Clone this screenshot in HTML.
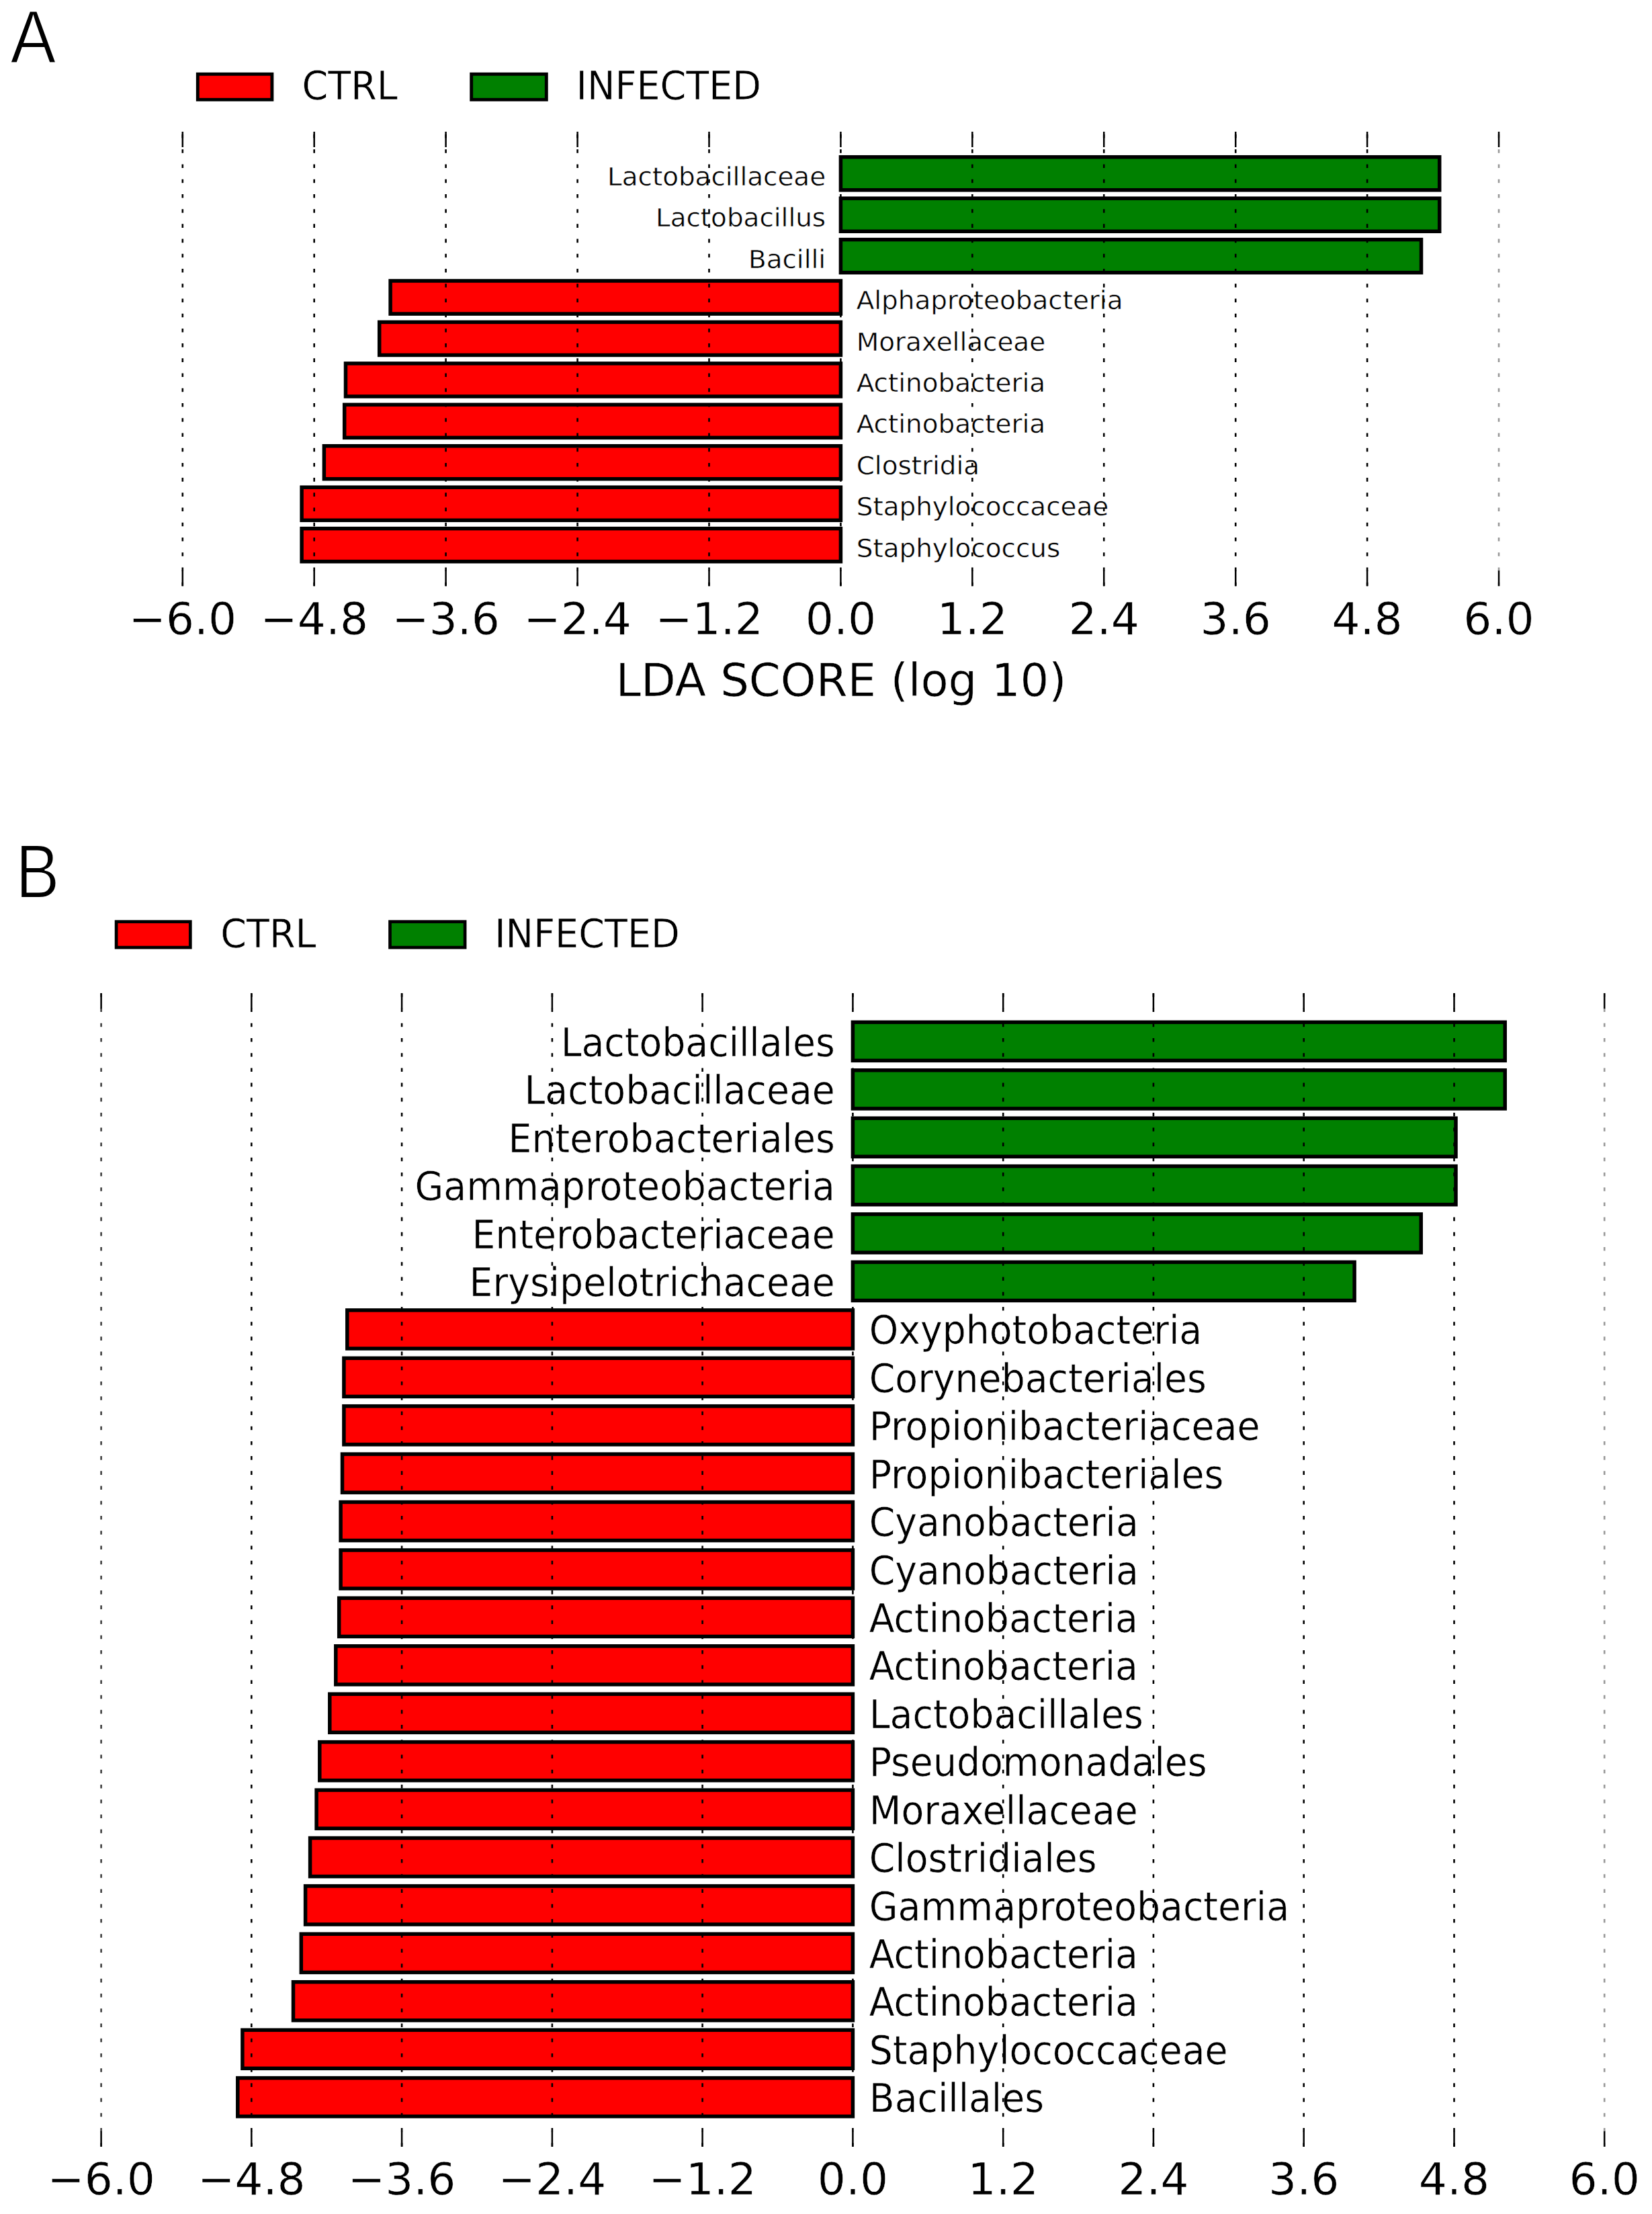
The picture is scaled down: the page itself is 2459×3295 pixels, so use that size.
<!DOCTYPE html>
<html lang="en"><head><meta charset="utf-8"><title>LDA score</title>
<style>
html,body{margin:0;padding:0;background:#fff}
svg{display:block}
text{font-family:"DejaVu Sans","Liberation Sans",sans-serif;fill:#000;stroke:#fff;stroke-width:0.5px}
.pl{font-family:"Liberation Sans","DejaVu Sans",sans-serif;stroke-width:2px}
</style></head><body>
<svg width="2459" height="3295" viewBox="0 0 2459 3295">
<rect width="2459" height="3295" fill="#fff"/>
<g id="panelA">
<rect x="1251.4" y="233.7" width="891.3" height="49.1" fill="#008000" stroke="#000" stroke-width="5.5"/>
<rect x="1251.4" y="295.2" width="891.3" height="49.1" fill="#008000" stroke="#000" stroke-width="5.5"/>
<rect x="1251.4" y="356.6" width="864.1" height="49.1" fill="#008000" stroke="#000" stroke-width="5.5"/>
<rect x="581.1" y="418.0" width="670.3" height="49.1" fill="#ff0000" stroke="#000" stroke-width="5.5"/>
<rect x="564.7" y="479.4" width="686.7" height="49.1" fill="#ff0000" stroke="#000" stroke-width="5.5"/>
<rect x="514.5" y="540.9" width="736.9" height="49.1" fill="#ff0000" stroke="#000" stroke-width="5.5"/>
<rect x="512.7" y="602.3" width="738.7" height="49.1" fill="#ff0000" stroke="#000" stroke-width="5.5"/>
<rect x="482.4" y="663.7" width="769.0" height="49.1" fill="#ff0000" stroke="#000" stroke-width="5.5"/>
<rect x="449.1" y="725.2" width="802.3" height="49.1" fill="#ff0000" stroke="#000" stroke-width="5.5"/>
<rect x="449.1" y="786.6" width="802.3" height="49.1" fill="#ff0000" stroke="#000" stroke-width="5.5"/>
<text transform="translate(1229.1,275.8) scale(1,0.945)" font-size="38.89" text-anchor="end">Lactobacillaceae</text>
<text transform="translate(1229.1,337.3) scale(1,0.945)" font-size="38.89" text-anchor="end">Lactobacillus</text>
<text transform="translate(1229.1,398.7) scale(1,0.945)" font-size="38.89" text-anchor="end">Bacilli</text>
<text transform="translate(1274.7,460.1) scale(1,0.945)" font-size="38.89">Alphaproteobacteria</text>
<text transform="translate(1274.7,521.5) scale(1,0.945)" font-size="38.89">Moraxellaceae</text>
<text transform="translate(1274.7,583.0) scale(1,0.945)" font-size="38.89">Actinobacteria</text>
<text transform="translate(1274.7,644.4) scale(1,0.945)" font-size="38.89">Actinobacteria</text>
<text transform="translate(1274.7,705.8) scale(1,0.945)" font-size="38.89">Clostridia</text>
<text transform="translate(1274.7,767.3) scale(1,0.945)" font-size="38.89">Staphylococcaceae</text>
<text transform="translate(1274.7,828.7) scale(1,0.945)" font-size="38.89">Staphylococcus</text>
<line x1="271.8" y1="872.2" x2="271.8" y2="196.0" stroke="#000" stroke-width="2.6" stroke-dasharray="5.56 16.66"/>
<line x1="271.8" y1="872.2" x2="271.8" y2="849.2" stroke="#000" stroke-width="2.5"/>
<line x1="271.8" y1="196.0" x2="271.8" y2="219.0" stroke="#000" stroke-width="2.5"/>
<text x="271.8" y="944.0" font-size="66.2" text-anchor="middle">−6.0</text>
<line x1="467.7" y1="872.2" x2="467.7" y2="196.0" stroke="#000" stroke-width="2.6" stroke-dasharray="5.56 16.66"/>
<line x1="467.7" y1="872.2" x2="467.7" y2="849.2" stroke="#000" stroke-width="2.5"/>
<line x1="467.7" y1="196.0" x2="467.7" y2="219.0" stroke="#000" stroke-width="2.5"/>
<text x="467.7" y="944.0" font-size="66.2" text-anchor="middle">−4.8</text>
<line x1="663.6" y1="872.2" x2="663.6" y2="196.0" stroke="#000" stroke-width="2.6" stroke-dasharray="5.56 16.66"/>
<line x1="663.6" y1="872.2" x2="663.6" y2="849.2" stroke="#000" stroke-width="2.5"/>
<line x1="663.6" y1="196.0" x2="663.6" y2="219.0" stroke="#000" stroke-width="2.5"/>
<text x="663.6" y="944.0" font-size="66.2" text-anchor="middle">−3.6</text>
<line x1="859.6" y1="872.2" x2="859.6" y2="196.0" stroke="#000" stroke-width="2.6" stroke-dasharray="5.56 16.66"/>
<line x1="859.6" y1="872.2" x2="859.6" y2="849.2" stroke="#000" stroke-width="2.5"/>
<line x1="859.6" y1="196.0" x2="859.6" y2="219.0" stroke="#000" stroke-width="2.5"/>
<text x="859.6" y="944.0" font-size="66.2" text-anchor="middle">−2.4</text>
<line x1="1055.5" y1="872.2" x2="1055.5" y2="196.0" stroke="#000" stroke-width="2.6" stroke-dasharray="5.56 16.66"/>
<line x1="1055.5" y1="872.2" x2="1055.5" y2="849.2" stroke="#000" stroke-width="2.5"/>
<line x1="1055.5" y1="196.0" x2="1055.5" y2="219.0" stroke="#000" stroke-width="2.5"/>
<text x="1055.5" y="944.0" font-size="66.2" text-anchor="middle">−1.2</text>
<line x1="1251.4" y1="872.2" x2="1251.4" y2="196.0" stroke="#000" stroke-width="2.6" stroke-dasharray="5.56 16.66"/>
<line x1="1251.4" y1="872.2" x2="1251.4" y2="849.2" stroke="#000" stroke-width="2.5"/>
<line x1="1251.4" y1="196.0" x2="1251.4" y2="219.0" stroke="#000" stroke-width="2.5"/>
<text x="1251.4" y="944.0" font-size="66.2" text-anchor="middle">0.0</text>
<line x1="1447.3" y1="872.2" x2="1447.3" y2="196.0" stroke="#000" stroke-width="2.6" stroke-dasharray="5.56 16.66"/>
<line x1="1447.3" y1="872.2" x2="1447.3" y2="849.2" stroke="#000" stroke-width="2.5"/>
<line x1="1447.3" y1="196.0" x2="1447.3" y2="219.0" stroke="#000" stroke-width="2.5"/>
<text x="1447.3" y="944.0" font-size="66.2" text-anchor="middle">1.2</text>
<line x1="1643.2" y1="872.2" x2="1643.2" y2="196.0" stroke="#000" stroke-width="2.6" stroke-dasharray="5.56 16.66"/>
<line x1="1643.2" y1="872.2" x2="1643.2" y2="849.2" stroke="#000" stroke-width="2.5"/>
<line x1="1643.2" y1="196.0" x2="1643.2" y2="219.0" stroke="#000" stroke-width="2.5"/>
<text x="1643.2" y="944.0" font-size="66.2" text-anchor="middle">2.4</text>
<line x1="1839.2" y1="872.2" x2="1839.2" y2="196.0" stroke="#000" stroke-width="2.6" stroke-dasharray="5.56 16.66"/>
<line x1="1839.2" y1="872.2" x2="1839.2" y2="849.2" stroke="#000" stroke-width="2.5"/>
<line x1="1839.2" y1="196.0" x2="1839.2" y2="219.0" stroke="#000" stroke-width="2.5"/>
<text x="1839.2" y="944.0" font-size="66.2" text-anchor="middle">3.6</text>
<line x1="2035.1" y1="872.2" x2="2035.1" y2="196.0" stroke="#000" stroke-width="2.6" stroke-dasharray="5.56 16.66"/>
<line x1="2035.1" y1="872.2" x2="2035.1" y2="849.2" stroke="#000" stroke-width="2.5"/>
<line x1="2035.1" y1="196.0" x2="2035.1" y2="219.0" stroke="#000" stroke-width="2.5"/>
<text x="2035.1" y="944.0" font-size="66.2" text-anchor="middle">4.8</text>
<line x1="2231.0" y1="872.2" x2="2231.0" y2="196.0" stroke="#000" stroke-width="2.6" stroke-dasharray="5.56 16.66" opacity="0.4"/>
<line x1="2231.0" y1="872.2" x2="2231.0" y2="849.2" stroke="#000" stroke-width="2.5"/>
<line x1="2231.0" y1="196.0" x2="2231.0" y2="219.0" stroke="#000" stroke-width="2.5"/>
<text x="2231.0" y="944.0" font-size="66.2" text-anchor="middle">6.0</text>
<rect x="294.3" y="110.3" width="110.6" height="38.0" fill="#ff0000" stroke="#000" stroke-width="4.9"/>
<text transform="translate(449.5,148.0) scale(1,1.065)" font-size="55.56">CTRL</text>
<rect x="701.7" y="110.3" width="111.6" height="38.0" fill="#008000" stroke="#000" stroke-width="4.9"/>
<text transform="translate(857.6,148.0) scale(1,1.065)" font-size="55.56">INFECTED</text>
<text x="1252.1" y="1036.4" font-size="67.3" text-anchor="middle">LDA SCORE (log 10)</text>
</g>
<g id="panelB">
<rect x="1269.4" y="1521.3" width="970.8" height="57.1" fill="#008000" stroke="#000" stroke-width="5.5"/>
<rect x="1269.4" y="1592.8" width="970.8" height="57.1" fill="#008000" stroke="#000" stroke-width="5.5"/>
<rect x="1269.4" y="1664.2" width="897.6" height="57.1" fill="#008000" stroke="#000" stroke-width="5.5"/>
<rect x="1269.4" y="1735.6" width="897.6" height="57.1" fill="#008000" stroke="#000" stroke-width="5.5"/>
<rect x="1269.4" y="1807.0" width="845.8" height="57.1" fill="#008000" stroke="#000" stroke-width="5.5"/>
<rect x="1269.4" y="1878.4" width="746.7" height="57.1" fill="#008000" stroke="#000" stroke-width="5.5"/>
<rect x="516.8" y="1949.9" width="752.6" height="57.1" fill="#ff0000" stroke="#000" stroke-width="5.5"/>
<rect x="511.9" y="2021.3" width="757.5" height="57.1" fill="#ff0000" stroke="#000" stroke-width="5.5"/>
<rect x="511.9" y="2092.7" width="757.5" height="57.1" fill="#ff0000" stroke="#000" stroke-width="5.5"/>
<rect x="509.5" y="2164.1" width="759.9" height="57.1" fill="#ff0000" stroke="#000" stroke-width="5.5"/>
<rect x="507.1" y="2235.5" width="762.3" height="57.1" fill="#ff0000" stroke="#000" stroke-width="5.5"/>
<rect x="507.1" y="2307.0" width="762.3" height="57.1" fill="#ff0000" stroke="#000" stroke-width="5.5"/>
<rect x="504.7" y="2378.4" width="764.7" height="57.1" fill="#ff0000" stroke="#000" stroke-width="5.5"/>
<rect x="499.8" y="2449.8" width="769.6" height="57.1" fill="#ff0000" stroke="#000" stroke-width="5.5"/>
<rect x="490.8" y="2521.2" width="778.6" height="57.1" fill="#ff0000" stroke="#000" stroke-width="5.5"/>
<rect x="475.8" y="2592.6" width="793.6" height="57.1" fill="#ff0000" stroke="#000" stroke-width="5.5"/>
<rect x="471.1" y="2664.1" width="798.3" height="57.1" fill="#ff0000" stroke="#000" stroke-width="5.5"/>
<rect x="461.6" y="2735.5" width="807.8" height="57.1" fill="#ff0000" stroke="#000" stroke-width="5.5"/>
<rect x="454.6" y="2806.9" width="814.8" height="57.1" fill="#ff0000" stroke="#000" stroke-width="5.5"/>
<rect x="448.3" y="2878.3" width="821.1" height="57.1" fill="#ff0000" stroke="#000" stroke-width="5.5"/>
<rect x="436.5" y="2949.7" width="832.9" height="57.1" fill="#ff0000" stroke="#000" stroke-width="5.5"/>
<rect x="360.9" y="3021.2" width="908.5" height="57.1" fill="#ff0000" stroke="#000" stroke-width="5.5"/>
<rect x="353.8" y="3092.6" width="915.6" height="57.1" fill="#ff0000" stroke="#000" stroke-width="5.5"/>
<text transform="translate(1242.8,1571.9) scale(1,1.05)" font-size="55.3" text-anchor="end">Lactobacillales</text>
<text transform="translate(1242.8,1643.3) scale(1,1.05)" font-size="55.3" text-anchor="end">Lactobacillaceae</text>
<text transform="translate(1242.8,1714.8) scale(1,1.05)" font-size="55.3" text-anchor="end">Enterobacteriales</text>
<text transform="translate(1242.8,1786.2) scale(1,1.05)" font-size="55.3" text-anchor="end">Gammaproteobacteria</text>
<text transform="translate(1242.8,1857.6) scale(1,1.05)" font-size="55.3" text-anchor="end">Enterobacteriaceae</text>
<text transform="translate(1242.8,1929.0) scale(1,1.05)" font-size="55.3" text-anchor="end">Erysipelotrichaceae</text>
<text transform="translate(1293.7,2000.4) scale(1,1.05)" font-size="55.3">Oxyphotobacteria</text>
<text transform="translate(1293.7,2071.9) scale(1,1.05)" font-size="55.3">Corynebacteriales</text>
<text transform="translate(1293.7,2143.3) scale(1,1.05)" font-size="55.3">Propionibacteriaceae</text>
<text transform="translate(1293.7,2214.7) scale(1,1.05)" font-size="55.3">Propionibacteriales</text>
<text transform="translate(1293.7,2286.1) scale(1,1.05)" font-size="55.3">Cyanobacteria</text>
<text transform="translate(1293.7,2357.5) scale(1,1.05)" font-size="55.3">Cyanobacteria</text>
<text transform="translate(1293.7,2429.0) scale(1,1.05)" font-size="55.3">Actinobacteria</text>
<text transform="translate(1293.7,2500.4) scale(1,1.05)" font-size="55.3">Actinobacteria</text>
<text transform="translate(1293.7,2571.8) scale(1,1.05)" font-size="55.3">Lactobacillales</text>
<text transform="translate(1293.7,2643.2) scale(1,1.05)" font-size="55.3">Pseudomonadales</text>
<text transform="translate(1293.7,2714.6) scale(1,1.05)" font-size="55.3">Moraxellaceae</text>
<text transform="translate(1293.7,2786.1) scale(1,1.05)" font-size="55.3">Clostridiales</text>
<text transform="translate(1293.7,2857.5) scale(1,1.05)" font-size="55.3">Gammaproteobacteria</text>
<text transform="translate(1293.7,2928.9) scale(1,1.05)" font-size="55.3">Actinobacteria</text>
<text transform="translate(1293.7,3000.3) scale(1,1.05)" font-size="55.3">Actinobacteria</text>
<text transform="translate(1293.7,3071.7) scale(1,1.05)" font-size="55.3">Staphylococcaceae</text>
<text transform="translate(1293.7,3143.2) scale(1,1.05)" font-size="55.3">Bacillales</text>
<line x1="150.6" y1="3194.8" x2="150.6" y2="1478.1" stroke="#000" stroke-width="2.6" stroke-dasharray="5.56 16.66" opacity="0.75"/>
<line x1="150.6" y1="3194.8" x2="150.6" y2="3171.8" stroke="#000" stroke-width="2.5"/>
<line x1="150.6" y1="1478.1" x2="150.6" y2="1501.1" stroke="#000" stroke-width="2.5"/>
<text x="150.6" y="3266.0" font-size="66.2" text-anchor="middle">−6.0</text>
<line x1="374.3" y1="3194.8" x2="374.3" y2="1478.1" stroke="#000" stroke-width="2.6" stroke-dasharray="5.56 16.66"/>
<line x1="374.3" y1="3194.8" x2="374.3" y2="3171.8" stroke="#000" stroke-width="2.5"/>
<line x1="374.3" y1="1478.1" x2="374.3" y2="1501.1" stroke="#000" stroke-width="2.5"/>
<text x="374.3" y="3266.0" font-size="66.2" text-anchor="middle">−4.8</text>
<line x1="598.1" y1="3194.8" x2="598.1" y2="1478.1" stroke="#000" stroke-width="2.6" stroke-dasharray="5.56 16.66"/>
<line x1="598.1" y1="3194.8" x2="598.1" y2="3171.8" stroke="#000" stroke-width="2.5"/>
<line x1="598.1" y1="1478.1" x2="598.1" y2="1501.1" stroke="#000" stroke-width="2.5"/>
<text x="598.1" y="3266.0" font-size="66.2" text-anchor="middle">−3.6</text>
<line x1="821.9" y1="3194.8" x2="821.9" y2="1478.1" stroke="#000" stroke-width="2.6" stroke-dasharray="5.56 16.66"/>
<line x1="821.9" y1="3194.8" x2="821.9" y2="3171.8" stroke="#000" stroke-width="2.5"/>
<line x1="821.9" y1="1478.1" x2="821.9" y2="1501.1" stroke="#000" stroke-width="2.5"/>
<text x="821.9" y="3266.0" font-size="66.2" text-anchor="middle">−2.4</text>
<line x1="1045.6" y1="3194.8" x2="1045.6" y2="1478.1" stroke="#000" stroke-width="2.6" stroke-dasharray="5.56 16.66"/>
<line x1="1045.6" y1="3194.8" x2="1045.6" y2="3171.8" stroke="#000" stroke-width="2.5"/>
<line x1="1045.6" y1="1478.1" x2="1045.6" y2="1501.1" stroke="#000" stroke-width="2.5"/>
<text x="1045.6" y="3266.0" font-size="66.2" text-anchor="middle">−1.2</text>
<line x1="1269.4" y1="3194.8" x2="1269.4" y2="1478.1" stroke="#000" stroke-width="2.6" stroke-dasharray="5.56 16.66"/>
<line x1="1269.4" y1="3194.8" x2="1269.4" y2="3171.8" stroke="#000" stroke-width="2.5"/>
<line x1="1269.4" y1="1478.1" x2="1269.4" y2="1501.1" stroke="#000" stroke-width="2.5"/>
<text x="1269.4" y="3266.0" font-size="66.2" text-anchor="middle">0.0</text>
<line x1="1493.2" y1="3194.8" x2="1493.2" y2="1478.1" stroke="#000" stroke-width="2.6" stroke-dasharray="5.56 16.66"/>
<line x1="1493.2" y1="3194.8" x2="1493.2" y2="3171.8" stroke="#000" stroke-width="2.5"/>
<line x1="1493.2" y1="1478.1" x2="1493.2" y2="1501.1" stroke="#000" stroke-width="2.5"/>
<text x="1493.2" y="3266.0" font-size="66.2" text-anchor="middle">1.2</text>
<line x1="1716.9" y1="3194.8" x2="1716.9" y2="1478.1" stroke="#000" stroke-width="2.6" stroke-dasharray="5.56 16.66"/>
<line x1="1716.9" y1="3194.8" x2="1716.9" y2="3171.8" stroke="#000" stroke-width="2.5"/>
<line x1="1716.9" y1="1478.1" x2="1716.9" y2="1501.1" stroke="#000" stroke-width="2.5"/>
<text x="1716.9" y="3266.0" font-size="66.2" text-anchor="middle">2.4</text>
<line x1="1940.7" y1="3194.8" x2="1940.7" y2="1478.1" stroke="#000" stroke-width="2.6" stroke-dasharray="5.56 16.66"/>
<line x1="1940.7" y1="3194.8" x2="1940.7" y2="3171.8" stroke="#000" stroke-width="2.5"/>
<line x1="1940.7" y1="1478.1" x2="1940.7" y2="1501.1" stroke="#000" stroke-width="2.5"/>
<text x="1940.7" y="3266.0" font-size="66.2" text-anchor="middle">3.6</text>
<line x1="2164.5" y1="3194.8" x2="2164.5" y2="1478.1" stroke="#000" stroke-width="2.6" stroke-dasharray="5.56 16.66"/>
<line x1="2164.5" y1="3194.8" x2="2164.5" y2="3171.8" stroke="#000" stroke-width="2.5"/>
<line x1="2164.5" y1="1478.1" x2="2164.5" y2="1501.1" stroke="#000" stroke-width="2.5"/>
<text x="2164.5" y="3266.0" font-size="66.2" text-anchor="middle">4.8</text>
<line x1="2388.2" y1="3194.8" x2="2388.2" y2="1478.1" stroke="#000" stroke-width="2.6" stroke-dasharray="5.56 16.66" opacity="0.4"/>
<line x1="2388.2" y1="3194.8" x2="2388.2" y2="3171.8" stroke="#000" stroke-width="2.5"/>
<line x1="2388.2" y1="1478.1" x2="2388.2" y2="1501.1" stroke="#000" stroke-width="2.5"/>
<text x="2388.2" y="3266.0" font-size="66.2" text-anchor="middle">6.0</text>
<rect x="173.1" y="1371.7" width="110.2" height="38.4" fill="#ff0000" stroke="#000" stroke-width="4.7"/>
<text transform="translate(328.3,1409.5) scale(1,1.065)" font-size="55.56">CTRL</text>
<rect x="580.5" y="1371.7" width="111.6" height="38.4" fill="#008000" stroke="#000" stroke-width="4.7"/>
<text transform="translate(736.2,1409.5) scale(1,1.065)" font-size="55.56">INFECTED</text>
</g>
<text class="pl" x="15.3" y="92.8" font-size="111.5" textLength="68.2" lengthAdjust="spacingAndGlyphs">A</text>
<text class="pl" x="23.3" y="1336.3" font-size="112.5" textLength="65.3" lengthAdjust="spacingAndGlyphs">B</text>
</svg>
</body></html>
